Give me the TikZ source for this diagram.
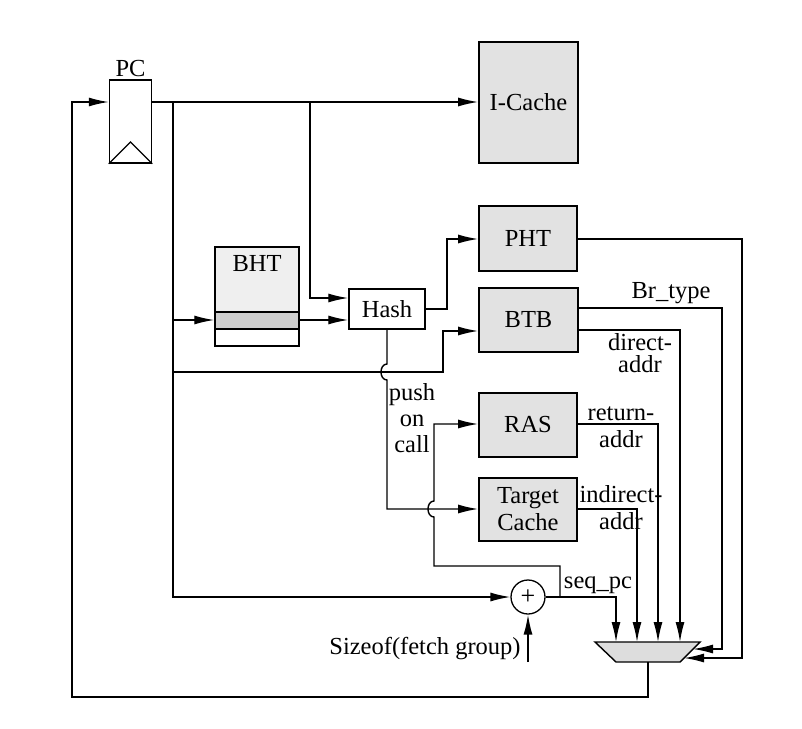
\documentclass[tikz,border=0pt]{standalone}
\usepackage{fontspec}
\setmainfont{Liberation Serif}
\usetikzlibrary{arrows.meta,calc}
\definecolor{boxgray}{HTML}{E2E2E2}
\definecolor{bandgray}{HTML}{CFCFCF}
\definecolor{bhttop}{HTML}{EFEFEF}
\definecolor{muxgray}{HTML}{DDDDDD}
\begin{document}
\begin{tikzpicture}[x=1pt,y=-1pt,
  line width=1.4pt,
  every node/.style={font=\fontsize{24.5}{27}\selectfont, inner sep=0pt},
  blk/.style={draw, line width=1.8pt, fill=boxgray, align=center},
  wire/.style={line width=1.4pt},
  arr/.style={-{Latex[length=20pt,width=9pt]}},
  lbl/.style={align=center}
]
\useasboundingbox (0,0) rectangle (802,728);

% blocks
\node[blk, minimum width=99pt, minimum height=121pt] (icache) at (528.5,102.5) {I-Cache};
\node[blk, minimum width=98pt, minimum height=65pt] (pht) at (528,238.5) {PHT};
\node[blk, minimum width=99pt, minimum height=64pt] (btb) at (528.5,320) {BTB};
\node[blk, minimum width=98pt, minimum height=64pt] (ras) at (528,425) {RAS};
\node[blk, minimum width=98pt, minimum height=63pt] (tc) at (528,509.5) {Target\\Cache};
\node[draw, line width=1.5pt, fill=white, minimum width=76pt, minimum height=40pt] (hash) at (387,309) {Hash};

% BHT
\fill[bhttop] (215,247) rectangle (299,312);
\fill[bandgray] (215,312) rectangle (299,329);
\node[draw, line width=1.5pt, minimum width=84pt, minimum height=99pt] (bht) at (257,296.5) {};
\draw[line width=1.5pt] (bht.west |- 0,312) -- (bht.east |- 0,312);
\draw[line width=1.5pt] (bht.west |- 0,329) -- (bht.east |- 0,329);
\node (bhtlbl) at (257,264) {BHT};

% PC register
\node[draw, line width=1.5pt, minimum width=42pt, minimum height=83pt] (pc) at (130.5,121.5) {};
\draw[line width=1.4pt] (pc.south west) -- (130.5,142) -- (pc.south east);
\node (pclbl) at (130.5,69) {PC};

% adder
\node[circle, draw, line width=1.3pt, fill=white, minimum size=34pt] (add) at (528,597) {};
\node[font=\fontsize{26}{26}\selectfont] (plus) at (add.center) {+};

% mux
\draw[fill=muxgray, line width=1.4pt] (595,642) -- (700,642) -- (680,662) -- (616,662) -- cycle;
\coordinate (mux) at (647.5,652);
\coordinate (muxin1) at (616,642);
\coordinate (muxin2) at (637,642);
\coordinate (muxin3) at (658,642);
\coordinate (muxin4) at (680,642);
\coordinate (muxr1) at (693,649);
\coordinate (muxr2) at (684,658);
\coordinate (muxout) at (648,662);

% junctions
\coordinate (jA) at (173,102);
\coordinate (jB) at (310,102);
\coordinate (jC) at (560,597);
\coordinate (szsrc) at (528,662);

% wires
\draw[wire,arr] (pc.east |- 0,102) -- (icache.west |- 0,102);
\draw[wire,arr] (jA) -- (173,597) -- (add.west);
\draw[wire,arr] (173,320) -- (bht.west |- 0,320);
\draw[wire,arr] (bht.east |- 0,320) -- (hash.west |- 0,320);
\draw[wire,arr] (jB) -- (310,298) -- (hash.west |- 0,298);
\draw[wire,arr] (173,372) -- (443,372) -- (443,331) -- (btb.west |- 0,331);
\draw[wire,arr] (hash.east) -- (447,309) -- (447,239) -- (pht.west |- 0,239);
\draw[wire,arr] (hash.south) -- (387,364) .. controls (379,364) and (379,380) .. (387,380) -- (387,509) -- (tc.west |- 0,509);
\draw[wire,arr] (add.east) -- (616,597) -- (muxin1);
\draw[wire,arr] (jC) -- (560,566) -- (434,566) -- (434,517) .. controls (426,517) and (426,501) .. (434,501) -- (434,424) -- (ras.west |- 0,424);
\draw[wire,arr] (tc.east |- 0,509) -- (637,509) -- (muxin2);
\draw[wire,arr] (ras.east |- 0,424) -- (658,424) -- (muxin3);
\draw[wire,arr] (btb.east |- 0,330) -- (680,330) -- (muxin4);
\draw[wire,arr] (btb.east |- 0,308) -- (722,308) -- (722,649) -- (muxr1);
\draw[wire,arr] (pht.east |- 0,239) -- (742,239) -- (742,658) -- (muxr2);
\draw[wire,arr] (szsrc) -- (add.south);
\draw[wire,arr] (muxout) -- (648,697) -- (72,697) -- (72,102) -- (pc.west |- 0,102);

% labels
\node (brtype) at (671,293) {Br\_type};
\node[lbl, font=\fontsize{24.5}{22}\selectfont] (direct) at (640,353) {direct-\\addr};
\node[lbl] (return) at (621,427) {return-\\addr};
\node[lbl] (indirect) at (621,508) {indirect-\\addr};
\node[lbl, font=\fontsize{24.5}{26}\selectfont] (push) at (412,418) {push\\on\\call};
\node (seqpc) at (598,585) {seq\_pc};
\node (sizeof) at (425,649) {Sizeof(fetch group)};
\end{tikzpicture}
\end{document}
